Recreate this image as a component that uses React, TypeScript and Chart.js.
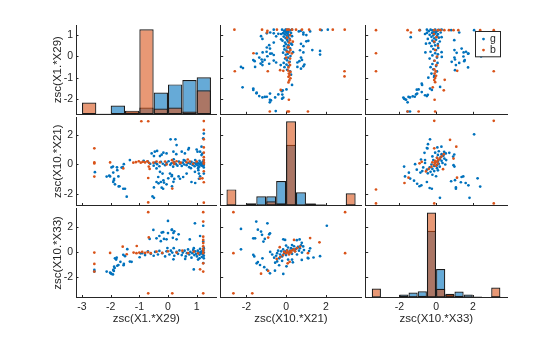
import React, { useEffect, useRef } from "react";
import { Chart, registerables } from "chart.js";

Chart.register(...registerables);

// ---------------- data ----------------
const groupNames = ["g", "b"];
const varLabels = ["zsc(X1.*X29)", "zsc(X10.*X21)", "zsc(X10.*X33)"];
const colTicks = [[-3, -2, -1, 0, 1], [-2, 0, 2], [-2, 0, 2]];
const rowTicks = [[-2, -1, 0, 1], [-2, 0, 2], [-2, 0, 2]];
const colLimits = [[-3.21, 1.7], [-3.29, 3.78], [-3.83, 3.86]];
const rowLimits = [[-2.7, 1.47], [-2.79, 3.23], [-3.6, 3.45]];

// histogram bin centres and relative frequencies (per group)
const hist1Centers = [-2.75, -2.25, -1.75, -1.25, -0.75, -0.25, 0.25, 0.75, 1.25];
const hist1G = [0, 0.004, 0.062, 0.014, 0.048, 0.155, 0.212, 0.243, 0.262];
const hist1B = [0.083, 0.004, 0, 0.026, 0.603, 0.041, 0.048, 0.019, 0.171];

const hist2Centers = [-2.75, -2.25, -1.75, -1.25, -0.75, -0.25, 0.25, 0.75, 1.25, 1.75, 2.25, 2.75, 3.25];
const hist2G = [0.008, 0.006, 0.018, 0.074, 0.074, 0.197, 0.49, 0.106, 0.016, 0.008, 0, 0, 0.008];
const hist2B = [0.13, 0.006, 0.008, 0, 0.034, 0.018, 0.68, 0.004, 0.016, 0.008, 0, 0, 0.098];

const hist3Centers = [-3.25, -2.75, -2.25, -1.75, -1.25, -0.75, -0.25, 0.25, 0.75, 1.25, 1.75, 2.25, 2.75, 3.25];
const hist3G = [0, 0, 0, 0.024, 0.04, 0.05, 0.544, 0.232, 0.02, 0.048, 0.024, 0.008, 0, 0.01];
const hist3B = [0.073, 0, 0, 0.012, 0.011, 0.014, 0.693, 0.071, 0.03, 0.014, 0, 0, 0, 0.082];

// pair (X1.*X29, X10.*X21)
const gV1V2 = [
  [-2.55, -0.52], [-2.14, -0.82], [-2.05, -0.76], [-1.97, -0.2], [-1.91, -0.55], [-1.88, -0.97], [-1.91, -1.19],
  [-1.85, -1.35], [-1.72, -1.49], [-1.77, -0.39], [-1.62, -0.21], [-1.54, 0.02], [-1.56, -1.65], [-1.44, -2.19],
  [-1.33, 0.3], [-1.69, -1.48], [-1.89, -1.07], [-1.73, -0.81], [-2.02, -0.81], [-1.58, -0.17], [-1.78, -0.19],
  [-1.92, -0.14], [-1.5, -1.65], [-0.49, -1.56], [-0.17, -1.65], [-0.14, -1.23], [-0.25, -1.19], [-0.33, -1.28],
  [0.95, -1.26], [1.08, -0.97], [1.25, -0.62], [1.08, -0.62], [0.37, -0.81], [0.14, -0.72], [0.14, -1.48],
  [0.19, -1.18], [0.22, -0.98], [0.01, -0.94], [-0.49, -2.27], [0.26, 1.71], [0.73, 1.12], [1.03, 0.87],
  [1.2, 0.74], [0.29, 0.7], [-0.22, 0.67], [-0.28, 0.57], [-0.38, 0.92], [-0.49, 0.57], [1.25, 2.1],
  [-0.57, 0.75], [-0.46, 0.87], [-0.16, 0.8], [-0.05, 0.75], [0.09, 1.71], [0.19, 0.87], [0.3, 1.32],
  [0.48, 0.87], [0.59, 0.75], [0.71, 1.02], [1.0, 1.02], [1.12, 0.87], [1.23, 1.78], [1.17, 1.21], [1.17, 0.64],
  [-0.4, -0.27], [-0.28, -0.5], [-0.19, -0.62], [-0.34, -0.85], [-0.16, -1.08], [-0.4, -1.19], [-0.22, -1.58],
  [-0.54, -2.17], [-0.05, -1.35], [0.07, -0.62], [0.13, -0.8], [0.42, -0.97], [0.53, -0.85], [0.65, -0.62],
  [0.82, -1.19], [0.94, -0.5], [1.06, -0.39], [1.12, -0.8],
  [-0.62, 0.05], [-0.5, -0.08], [-0.45, 0.12], [-0.38, 0.02], [-0.3, -0.12], [-0.25, 0.18], [-0.18, 0.05],
  [-0.1, -0.05], [-0.05, 0.1], [0.02, 0.22], [0.08, -0.02], [0.12, 0.08], [0.18, -0.15], [0.22, 0.15],
  [0.28, 0.02], [0.33, -0.08], [0.38, 0.2], [0.42, 0.05], [0.48, -0.1], [0.52, 0.12], [0.57, 0.0], [0.6, 0.25],
  [0.65, -0.05], [0.7, 0.1], [0.74, -0.18], [0.78, 0.05], [0.82, 0.18], [0.86, -0.03], [0.9, 0.1], [0.93, -0.12],
  [0.97, 0.03], [1.0, 0.15], [1.03, -0.06], [1.06, 0.08], [1.09, -0.15], [1.11, 0.02], [1.14, 0.12],
  [1.16, -0.05], [1.18, 0.06], [1.2, -0.1], [1.22, 0.2], [1.24, 0.0], [1.25, 0.1], [1.25, -0.2], [1.25, 0.3],
  [1.25, -0.02], [1.1, 0.25], [0.95, 0.3], [1.05, -0.25], [0.8, -0.25], [0.55, 0.3], [0.2, 0.35], [-0.7, 0.2],
  [-0.85, 0.25],
];
const bV1V2 = [
  [-2.57, 1.1], [-2.57, 0.14], [-2.57, 0.07], [-2.57, -0.82], [-2.02, 0.14], [-1.56, -0.27],
  [-1.21, 0.12], [-1.12, 0.16], [-1.02, 0.22], [-0.95, 0.12], [-0.88, 0.18], [-0.8, 0.14], [-0.72, 0.22],
  [-0.66, 0.1], [-0.93, 2.94], [-0.69, 2.94], [-0.69, -0.92], [-0.69, -2.58], [-0.67, -0.14], [-0.64, -0.3],
  [-0.51, 0.12], [-0.4, 0.2], [-0.28, 0.15], [-0.1, 0.2], [-0.05, 0.0], [0.14, 0.29], [0.19, 0.15],
  [0.22, 0.04], [0.3, 0.22], [0.42, 0.1], [0.45, 0.12], [0.65, 0.15], [0.69, 0.34], [0.76, 0.2], [0.88, 0.05],
  [1.0, 0.2], [0.15, -1.64], [1.12, -0.96], [1.25, 2.95], [1.25, 2.35], [1.25, 1.71], [1.25, 1.16],
  [1.25, 0.8], [1.25, 0.5], [1.25, 0.3], [1.25, 0.15], [1.25, 0.05], [1.25, -0.46], [1.25, -1.21],
  [1.25, -2.6], [1.2, -0.94],
];

// pair (X1.*X29, X10.*X33)
const gV1V3 = [
  [-2.57, -1.42], [-2.57, -1.55], [-2.14, -1.55], [-2.02, -1.63], [-1.97, -1.74], [-1.91, -1.42], [-1.88, -1.16],
  [-1.85, -0.5], [-1.79, -0.45], [-1.73, -1.03], [-1.56, -0.23], [-1.54, -0.95], [-1.33, -0.76],
  [-1.92, -1.78], [-2.0, -1.68], [-1.89, -1.5], [-1.86, -1.27], [-1.77, -1.09], [-1.55, -1.05], [-1.66, -0.78],
  [-1.27, -0.78], [-1.81, -0.6], [-1.5, -0.33], [-1.42, 0.22], [-0.96, -0.11], [-0.99, -0.42], [0.9, -1.38],
  [-0.51, 1.74], [-0.4, 1.08], [-0.3, 1.26], [-0.22, 1.53], [-0.05, 1.0], [0.0, 2.45], [0.13, 1.74],
  [0.19, 1.5], [0.3, 1.0], [0.94, 2.26], [1.12, 1.26], [1.23, 2.07], [1.23, 0.82], [0.76, 0.99], [0.37, 1.39],
  [0.17, 1.12], [-0.25, 0.85], [-0.14, 1.03], [0.0, 1.49], [0.22, 1.63], [0.14, 1.76], [-0.17, 1.56],
  [-0.64, 1.03], [-0.02, 0.31],
  [-0.9, -0.1], [-0.8, -0.25], [-0.7, 0.05], [-0.6, -0.15], [-0.5, -0.3], [-0.45, 0.0], [-0.35, -0.2],
  [-0.3, 0.08], [-0.2, -0.1], [-0.1, -0.35], [-0.05, 0.05], [0.05, -0.2], [0.1, 0.1], [0.15, -0.05],
  [0.22, -0.3], [0.3, 0.0], [0.35, -0.15], [0.4, 0.12], [0.48, -0.25], [0.52, -0.05], [0.58, 0.1],
  [0.62, -0.35], [0.66, -0.1], [0.7, 0.2], [0.74, -0.2], [0.78, 0.0], [0.82, -0.45], [0.85, -0.1], [0.88, 0.15],
  [0.92, -0.25], [0.95, 0.05], [0.98, -0.15], [1.01, -0.35], [1.04, 0.1], [1.07, -0.05], [1.1, -0.22],
  [1.12, 0.25], [1.14, 0.0], [1.16, -0.12], [1.18, -0.4], [1.2, 0.08], [1.22, -0.2], [1.24, 0.15],
  [1.25, -0.05], [1.25, -0.3], [1.25, 0.3], [1.25, -0.5], [1.1, -0.5], [0.9, 0.3], [0.2, 0.3], [1.23, -0.88],
  [0.19, -0.58], [1.05, -0.6], [0.6, -0.55],
];
const bV1V3 = [
  [-2.57, -0.05], [-2.57, -0.95], [-2.57, -1.55], [-2.02, -0.08], [-1.58, 0.42], [-1.44, -0.18], [-1.09, 0.47],
  [-1.2, -0.05], [-1.1, -0.1], [-1.0, -0.05], [-0.9, 0.0], [-0.8, -0.08], [-0.7, -0.02], [-0.6, -0.1],
  [-0.4, 0.02], [-0.2, -0.08], [0.0, 0.05], [0.3, -0.05], [0.5, 0.1], [0.7, -0.1], [0.9, 0.02], [1.05, -0.12],
  [-0.69, 3.14], [-0.69, -3.27], [0.15, -3.27], [-0.67, 1.15], [1.23, 3.14], [1.23, 2.4], [1.23, 1.21],
  [1.23, 0.95], [1.23, 0.7], [1.23, 0.45], [1.23, 0.25], [1.23, 0.1], [1.23, -0.1], [1.23, -0.9],
  [1.23, -1.55], [1.23, -3.27], [1.12, -1.37],
];

// pair (X10.*X21, X10.*X33)
const gV2V3 = [
  [-2.27, 1.82], [-2.27, 0.21], [-1.5, 2.4], [-1.65, 1.08], [-1.56, 1.08], [-1.26, 1.61], [-1.21, 1.35],
  [-1.14, 0.82], [-0.94, 2.26], [-0.81, 1.48], [-1.07, 1.03], [-0.85, 1.39], [-1.42, 1.76],
  [-1.65, -0.23], [-1.48, -0.9], [-1.31, -1.03], [-1.19, -0.5], [-1.1, -1.2], [-0.81, -1.69], [-0.56, -1.48],
  [-0.14, -1.74], [-0.96, -1.41], [-1.42, -0.8], [-1.6, -0.35], [-0.55, -0.85], [0.02, -1.14], [-0.35, -1.05],
  [2.05, 2.07], [-0.14, 1.0], [1.21, 0.29], [1.38, -0.44], [1.12, -0.5], [0.79, -0.63], [0.54, 0.93],
  [0.79, 0.72], [0.68, 0.99], [-0.05, 0.95], [1.16, 0.07], [1.71, -0.33], [1.09, -0.47], [0.86, 0.44],
  [0.75, 0.53], [0.3, -0.6], [0.34, -0.82],
  [-0.6, -0.45], [-0.5, -0.3], [-0.45, -0.1], [-0.4, 0.1], [-0.35, -0.5], [-0.3, -0.2], [-0.25, 0.05],
  [-0.2, -0.35], [-0.15, 0.2], [-0.1, -0.1], [-0.05, 0.05], [0.0, -0.25], [0.05, 0.15], [0.1, 0.35],
  [0.15, -0.05], [0.2, 0.1], [0.25, 0.3], [0.3, -0.15], [0.35, 0.2], [0.4, 0.45], [0.45, 0.05], [0.5, 0.25],
  [0.55, -0.2], [0.6, 0.4], [0.65, 0.1], [0.7, 0.3], [0.8, -0.05], [0.9, 0.15], [-0.7, -0.2], [-0.8, 0.0],
  [0.0, 0.5], [0.3, 0.55], [-0.2, -0.7], [0.1, -0.6], [-0.45, -0.75],
];
const bV2V3 = [
  [-2.65, 3.14], [2.97, 3.14], [-2.65, -0.1], [2.97, -0.1], [-2.65, -3.27], [-1.7, -3.27], [-0.9, 1.14],
  [-0.32, 0.38], [1.68, 0.76], [1.21, 1.1], [0.4, 0.95], [1.1, -0.1], [-1.26, -1.72], [-0.9, -1.5],
  [0.08, -0.9], [0.18, -0.78],
  [-0.47, -0.55], [-0.3, -0.4], [-0.15, -0.25], [0.0, -0.1], [0.1, -0.05], [0.2, 0.05], [0.3, 0.12],
  [0.4, 0.2], [0.55, 0.3], [0.7, 0.42], [0.25, -0.05], [0.05, 0.1], [-0.1, 0.0], [0.45, 0.05], [0.15, -0.2],
];

// ---------------- layout & style ----------------
const W = 560;
const H = 337;
const COL_X = [[76, 216.7], [220.7, 361.2], [365.7, 507]];
const ROW_Y = [[25, 114.3], [117, 205.5], [208.3, 297.5]];
const AXW = 25.5;
const AXH = 28;
const FONT = "'Liberation Sans', Arial, Helvetica, sans-serif";
const TXT = "#262626";
const BLUE = "#0072BD";
const ORANGE = "#D95319";
const BLUE_FILL = "rgba(0,114,189,0.6)";
const ORANGE_FILL = "rgba(217,83,25,0.6)";

const histCenters = [hist1Centers, hist2Centers, hist3Centers];
const histG = [hist1G, hist2G, hist3G];
const histB = [hist1B, hist2B, hist3B];

function pairData(i: number, j: number, group: number) {
  // returns points with x = variable j (column), y = variable i (row)
  const a = Math.min(i, j);
  const b = Math.max(i, j);
  const key = `${a}${b}`;
  const table: any = {
    "01": [gV1V2, bV1V2],
    "02": [gV1V3, bV1V3],
    "12": [gV2V3, bV2V3],
  };
  const pts = table[key][group];
  if (j === a) return pts.map((p: number[]) => ({ x: p[0], y: p[1] }));
  return pts.map((p: number[]) => ({ x: p[1], y: p[0] }));
}

function axis(limits: number[], ticks: number[], showLabels: boolean, title: string | null, isX: boolean) {
  return {
    type: "linear",
    position: isX ? "bottom" : "left",
    min: limits[0],
    max: limits[1],
    bounds: "data",
    offset: false,
    grid: { display: false, drawTicks: false },
    border: { display: true, color: TXT, width: 1 },
    ticks: {
      display: showLabels,
      padding: 3,
      color: TXT,
      font: { family: FONT, size: 10.5 },
      maxRotation: 0,
      autoSkip: false,
    },
    title: {
      display: !!title,
      text: title || "",
      color: TXT,
      font: { family: FONT, size: 11.5 },
      padding: 0,
    },
    afterBuildTicks: (s: any) => {
      s.ticks = ticks.map((v) => ({ value: v }));
    },
    afterFit: (s: any) => {
      if (isX) s.height = AXH;
      else s.width = AXW;
      s.paddingLeft = 0;
      s.paddingRight = 0;
      s.paddingTop = 0;
      s.paddingBottom = 0;
    },
  };
}

const inwardTicks = {
  id: "inwardTicks",
  afterDraw(chart: any) {
    const ctx = chart.ctx;
    const { left, bottom } = chart.chartArea;
    const xs = chart.scales.x;
    const ys = chart.scales.y;
    ctx.save();
    ctx.strokeStyle = TXT;
    ctx.lineWidth = 1;
    ctx.beginPath();
    xs.ticks.forEach((t: any) => {
      const px = Math.round(xs.getPixelForValue(t.value)) + 0.5;
      ctx.moveTo(px, bottom);
      ctx.lineTo(px, bottom - 2.5);
    });
    ys.ticks.forEach((t: any) => {
      const py = Math.round(ys.getPixelForValue(t.value)) + 0.5;
      ctx.moveTo(left, py);
      ctx.lineTo(left + 2.5, py);
    });
    ctx.stroke();
    ctx.restore();
  },
};

const groupLegend = {
  id: "groupLegend",
  afterDraw(chart: any) {
    const ctx = chart.ctx;
    const { right, top } = chart.chartArea;
    const bw = 25;
    const bh = 25.3;
    const bx = Math.round(right - 6.7 - bw) + 0.5;
    const by = Math.round(top + 5.7) + 0.5;
    ctx.save();
    ctx.fillStyle = "#ffffff";
    ctx.fillRect(bx, by, bw, bh);
    ctx.strokeStyle = TXT;
    ctx.lineWidth = 1;
    ctx.strokeRect(bx, by, bw, bh);
    const colors = [BLUE, ORANGE];
    const rowsY = [by + 7.6, by + 18.6];
    ctx.font = `10.5px ${FONT}`;
    ctx.textBaseline = "middle";
    ctx.textAlign = "left";
    groupNames.forEach((name, k) => {
      ctx.fillStyle = colors[k];
      ctx.beginPath();
      ctx.arc(bx + 8, rowsY[k], 1.4, 0, Math.PI * 2);
      ctx.fill();
      ctx.fillStyle = TXT;
      ctx.fillText(name, bx + 14.5, rowsY[k]);
    });
    ctx.restore();
  },
};

function buildConfig(r: number, c: number): any {
  const layout = {
    padding: {
      left: COL_X[c][0] - AXW,
      right: W - COL_X[c][1],
      top: ROW_Y[r][0],
      bottom: H - ROW_Y[r][1] - AXH,
    },
  };
  const xAxis = axis(colLimits[c], colTicks[c], r === 2, r === 2 ? varLabels[c] : null, true);
  const yAxis = axis(rowLimits[r], rowTicks[r], c === 0, c === 0 ? varLabels[r] : null, false);
  const plugins: any[] = [inwardTicks];
  if (r === 0 && c === 2) plugins.push(groupLegend);
  const common = {
    responsive: false,
    animation: false,
    events: [],
    layout,
    plugins: { legend: { display: false }, tooltip: { enabled: false } },
  };

  if (r === c) {
    const centers = histCenters[r];
    const gv = histG[r];
    const bv = histB[r];
    const top = Math.max(...gv, ...bv) * 1.05;
    const barCommon = {
      yAxisID: "yh",
      grouped: false,
      barPercentage: 1,
      categoryPercentage: 1,
      borderColor: "#1a1a1a",
      borderWidth: 1.2,
      borderSkipped: false,
      inflateAmount: 0,
    };
    return {
      type: "bar",
      data: {
        datasets: [
          {
            ...barCommon,
            label: groupNames[0],
            data: centers.map((x, i) => ({ x, y: gv[i] })),
            backgroundColor: BLUE_FILL,
            order: 2,
          },
          {
            ...barCommon,
            label: groupNames[1],
            data: centers.map((x, i) => ({ x, y: bv[i] })),
            backgroundColor: ORANGE_FILL,
            order: 1,
          },
        ],
      },
      options: {
        ...common,
        scales: {
          x: xAxis,
          y: yAxis,
          yh: { type: "linear", display: false, min: 0, max: top, position: "right" },
        },
      },
      plugins,
    };
  }

  const pointCommon = { pointRadius: 1.35, pointBorderWidth: 0, pointHoverRadius: 1.35 };
  return {
    type: "scatter",
    data: {
      datasets: [
        {
          ...pointCommon,
          label: groupNames[0],
          data: pairData(r, c, 0),
          backgroundColor: BLUE,
          borderColor: BLUE,
          order: 2,
        },
        {
          ...pointCommon,
          label: groupNames[1],
          data: pairData(r, c, 1),
          backgroundColor: ORANGE,
          borderColor: ORANGE,
          order: 1,
        },
      ],
    },
    options: {
      ...common,
      scales: { x: xAxis, y: yAxis },
    },
    plugins,
  };
}

function Panel({ r, c }: { r: number; c: number }) {
  const ref = useRef<HTMLCanvasElement | null>(null);
  useEffect(() => {
    if (!ref.current) return;
    const chart = new Chart(ref.current, buildConfig(r, c));
    return () => chart.destroy();
  }, [r, c]);
  return (
    <canvas
      ref={ref}
      width={W}
      height={H}
      style={{ position: "absolute", left: 0, top: 0, width: W, height: H }}
    />
  );
}

export default function App() {
  const cells: React.ReactNode[] = [];
  for (let r = 0; r < 3; r++) {
    for (let c = 0; c < 3; c++) {
      cells.push(<Panel key={`${r}-${c}`} r={r} c={c} />);
    }
  }
  return (
    <div style={{ position: "absolute", left: 0, top: 0, width: W, height: H, background: "#ffffff" }}>
      {cells}
    </div>
  );
}
